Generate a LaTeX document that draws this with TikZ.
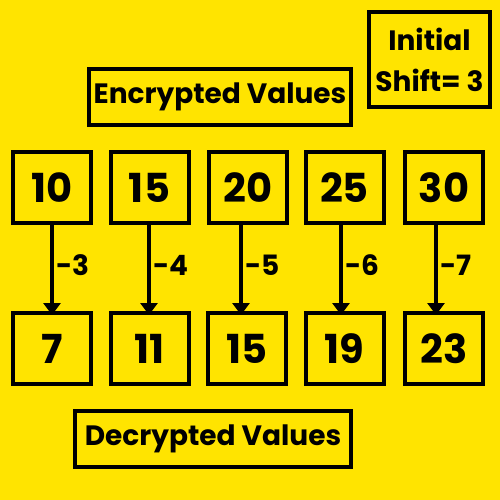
\documentclass[tikz,border=0pt]{standalone}
\usepackage{fontspec}
\setmainfont{Poppins}
\usetikzlibrary{arrows.meta}
\definecolor{bg}{HTML}{FFE400}
\begin{document}
\begin{tikzpicture}[x=1pt,y=-1pt,
  box/.style={draw=black,line width=4pt,inner sep=0pt,font=\fontsize{28}{34}\selectfont\bfseries},
  num/.style={box,minimum width=78pt,minimum height=71pt,font=\fontsize{40}{42}\selectfont\bfseries},
  arr/.style={line width=4pt,-{Triangle[width=17pt,length=12pt]}},
  lab/.style={right,inner sep=2pt,yshift=5pt,font=\fontsize{28}{29}\selectfont\bfseries}]
\fill[bg] (0,0) rectangle (500,500);
\useasboundingbox (0,0) rectangle (500,500);
\node[box,minimum width=121pt,minimum height=95pt,align=center,font=\fontsize{28}{41}\selectfont\bfseries] (shift) at (429.5,59.5) {Initial\\Shift= 3};
\node[box,minimum width=262pt,minimum height=56pt] (enc) at (220,97) {Encrypted Values};
\node[box,minimum width=276pt,minimum height=56pt] (dec) at (213,439) {Decrypted Values};
\node[num] (t1) at (52,187.5) {10};
\node[num] (t2) at (149.5,187.5) {15};
\node[num] (t3) at (248,187.5) {20};
\node[num] (t4) at (344.5,187.5) {25};
\node[num] (t5) at (444,187.5) {30};
\node[num] (b1) at (52,348.5) {7};
\node[num] (b2) at (149.5,348.5) {11};
\node[num] (b3) at (247,348.5) {15};
\node[num] (b4) at (344.5,348.5) {19};
\node[num] (b5) at (444,348.5) {23};
\draw[arr] (t1.south) -- node[lab]{-3} ([yshift=-4pt]b1.north);
\draw[arr] ([xshift=-0.5pt]t2.south) -- node[lab]{-4} ([xshift=-0.5pt,yshift=-4pt]b2.north);
\draw[arr] ([xshift=-7pt]t3.south) -- node[lab]{-5} ([xshift=-6pt,yshift=-4pt]b3.north);
\draw[arr] ([xshift=-3.5pt]t4.south) -- node[lab]{-6} ([xshift=-3.5pt,yshift=-4pt]b4.north);
\draw[arr] ([xshift=-8pt]t5.south) -- node[lab]{-7} ([xshift=-8pt,yshift=-4pt]b5.north);
\end{tikzpicture}
\end{document}
